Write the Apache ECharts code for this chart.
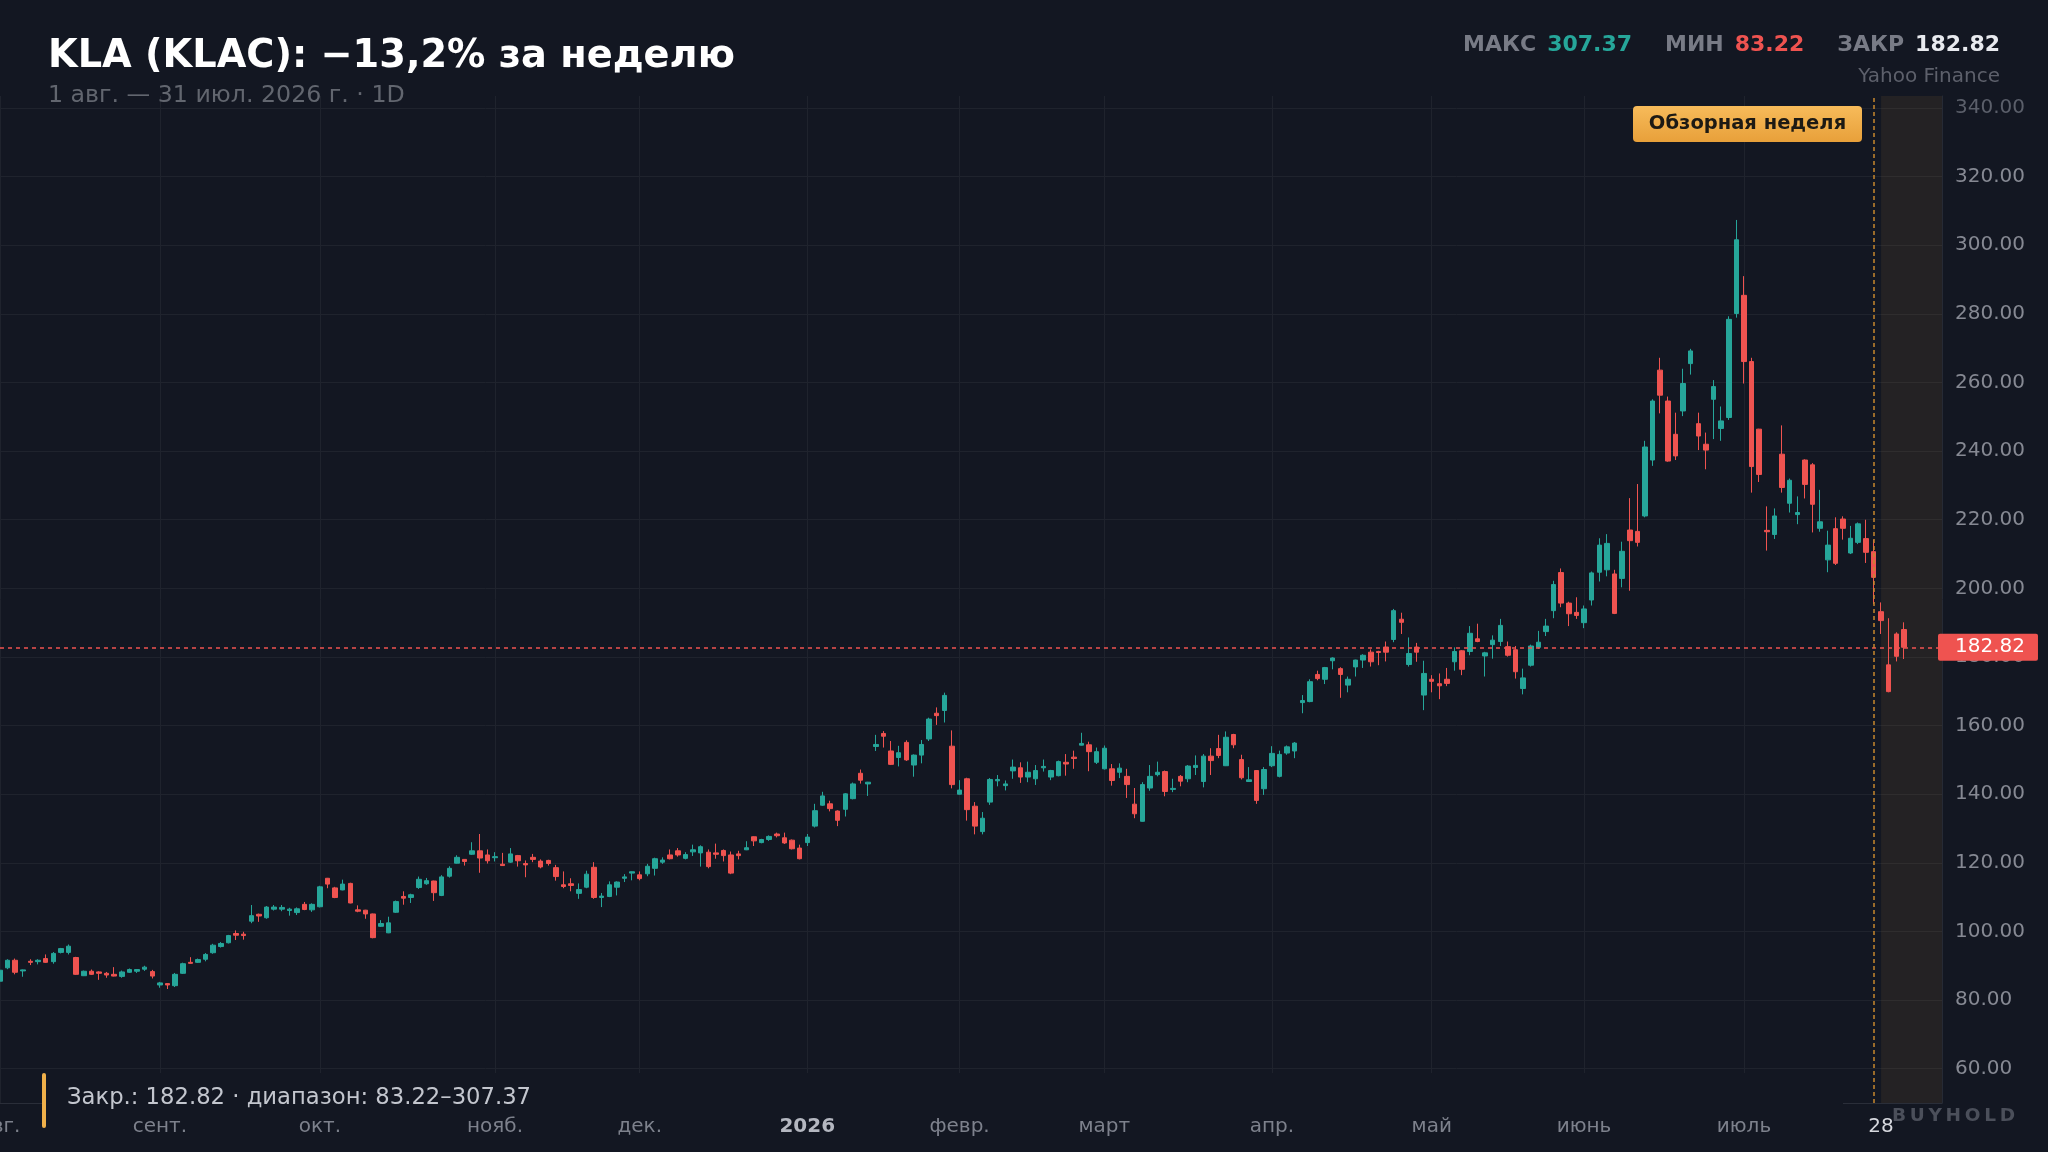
<!DOCTYPE html>
<html><head><meta charset="utf-8">
<script src="https://cdn.jsdelivr.net/npm/echarts@6/dist/echarts.min.js"></script>
<style>html,body{margin:0;padding:0;background:#131722;}#c{width:2048px;height:1152px;}</style>
</head><body><div id="c"></div>
<script>
// ---- categories (trading days) ----
const startDate = '2025-08-01';
const endDate = '2026-08-07'; // axis padding after the last candle
const holidays = ['2025-09-01','2025-11-27','2025-12-25','2026-01-01','2026-01-19','2026-02-16','2026-04-03','2026-05-25','2026-06-19','2026-07-03'];
const monthNames = ['янв.','февр.','март','апр.','май','июнь','июль','авг.','сент.','окт.','нояб.','дек.'];
const reviewWeekStart = '2026-07-27';
const dayLabel = '2026-07-28';

// ---- OHLC series ----
const opens = [85.5,89.4,91.6,88.5,91.3,91.2,92.1,91.2,93.9,93.9,92.4,87.1,88.4,88.2,87.8,87.5,86.9,88.1,88.4,89.0,88.3,
84.4,84.8,84.2,87.8,91.0,91.0,91.9,93.8,95.6,96.7,99.4,99.2,103.0,105.0,104.0,106.5,106.5,106.1,105.5,107.9,106.3,
107.2,115.5,112.7,112.1,114.0,106.3,106.2,105.1,101.5,99.6,105.6,110.2,109.9,112.8,113.9,114.7,110.5,116.1,119.9,121.0,122.5,123.5,122.3,
121.5,119.6,120.2,122.1,119.8,121.6,120.5,120.7,118.6,113.6,113.9,111.1,112.9,118.7,109.9,110.2,112.9,115.5,117.0,
116.5,116.8,118.4,120.2,122.3,123.5,121.3,123.2,122.9,123.1,122.9,123.6,122.3,122.6,123.8,127.6,125.9,126.8,128.4,127.3,126.6,124.3,
125.9,130.7,136.8,137.2,135.1,135.6,138.7,146.1,143.0,153.9,157.7,152.6,150.7,155.1,148.5,151.4,156.1,163.6,164.4,154.0,
140.0,144.5,136.5,129.1,137.7,143.9,142.5,146.8,147.7,145.0,144.5,147.7,145.0,145.4,149.3,150.8,154.3,154.4,149.3,
147.4,147.4,146.4,145.2,137.1,132.1,141.8,145.7,146.6,141.4,145.2,144.5,147.8,143.7,151.1,153.3,148.3,157.4,150.1,143.7,146.9,141.6,
148.3,145.2,152.0,152.6,166.7,167.0,174.9,173.5,178.9,176.6,171.8,177.1,179.1,181.4,181.6,182.9,185.1,191.0,177.8,182.9,168.9,
173.5,172.2,173.5,178.6,181.8,181.6,185.3,180.3,183.6,184.5,183.0,182.1,170.8,177.6,182.8,187.4,193.5,204.6,195.7,193.0,
190.0,196.6,204.7,205.4,204.2,202.9,217.0,216.6,221.1,237.4,263.6,254.6,244.9,251.7,265.5,248.0,242.0,255.1,246.6,249.8,280.1,
285.4,266.1,246.4,216.9,215.7,239.1,224.8,221.5,237.4,236.0,217.5,208.3,217.4,220.2,210.3,213.4,214.5,210.7,193.2,177.7,186.7,188.0];
const highs = [89.4,91.9,92.1,88.9,91.9,91.9,93.3,94.0,95.2,96.2,92.6,88.6,88.9,88.4,88.2,89.6,88.6,89.2,89.0,90.0,88.8,
85.3,84.9,87.9,90.9,92.5,92.1,93.7,96.4,96.9,99.0,100.3,99.9,107.7,105.2,107.4,107.7,107.7,106.9,107.0,108.6,108.2,
113.3,115.6,113.0,115.1,114.2,107.6,106.3,105.2,103.3,104.3,109.0,111.7,111.0,116.0,115.6,114.8,116.4,119.0,122.2,121.1,126.0,128.4,123.9,
123.1,122.9,124.3,122.3,120.7,122.6,121.0,120.9,119.4,117.5,115.5,114.0,117.7,120.2,111.2,114.6,114.6,116.7,117.5,
117.5,119.7,121.5,121.6,123.9,124.3,123.1,125.3,125.1,123.9,125.6,123.9,123.3,123.5,126.3,127.7,127.0,128.0,128.8,128.8,126.8,125.3,
128.4,137.2,140.7,138.1,135.3,140.3,143.4,147.2,143.6,157.3,158.4,155.5,154.1,155.7,151.6,155.8,162.3,165.3,169.6,158.6,
144.1,144.8,137.7,134.8,144.7,145.6,144.0,150.1,149.3,149.5,148.5,150.1,147.1,149.8,151.7,152.7,157.9,155.3,153.6,
154.2,148.8,149.0,147.4,141.8,143.5,148.5,149.5,146.9,144.5,145.6,148.5,151.3,151.7,153.4,157.3,158.3,157.6,151.5,147.9,147.0,147.9,
154.0,152.7,154.2,155.2,168.9,173.5,176.0,177.1,179.9,177.0,174.3,179.2,180.8,182.2,181.8,184.5,194.0,192.9,185.7,184.1,178.9,
174.7,175.2,176.8,182.8,182.0,189.0,189.7,181.5,186.3,191.1,184.5,183.2,176.6,183.6,187.6,191.1,202.2,205.8,196.1,197.4,
195.0,204.9,214.6,215.8,205.4,213.6,226.3,230.4,243.0,255.1,267.2,255.9,251.2,264.0,269.8,251.2,245.4,260.7,253.0,279.3,307.37,
291.0,267.2,246.5,223.9,223.3,247.5,232.0,226.8,237.6,236.5,228.7,216.8,220.7,221.0,218.2,219.2,220.0,214.2,195.9,191.3,187.2,190.1];
const lows = [85.3,89.0,87.5,86.8,90.2,90.4,90.8,90.6,93.6,93.3,87.3,87.0,87.3,85.9,86.5,86.9,86.5,87.9,87.9,88.5,86.3,
83.6,83.22,83.8,87.6,90.6,90.8,91.3,93.5,95.3,96.5,97.5,97.6,102.4,102.8,103.7,106.1,105.9,104.6,104.8,106.2,105.7,
107.0,112.6,109.7,112.0,108.2,105.6,103.7,98.0,101.3,99.5,105.4,107.8,108.3,112.4,113.6,108.9,110.3,115.7,119.8,119.2,122.3,117.1,119.8,
120.4,119.1,120.0,118.9,115.8,120.2,118.4,119.2,114.8,112.6,111.7,109.5,112.6,109.5,107.1,110.0,110.5,114.4,114.9,
114.9,116.1,116.3,119.7,121.0,121.8,121.0,122.0,118.9,118.4,121.2,120.4,116.7,121.0,123.7,124.9,125.7,126.4,127.4,125.5,123.9,121.0,
124.9,130.3,136.6,135.0,130.7,133.5,138.5,143.1,139.5,152.6,153.6,148.5,148.1,149.7,145.1,149.0,155.5,160.2,160.9,141.7,
139.9,132.3,128.3,128.3,136.9,142.3,141.1,144.5,143.3,143.5,142.7,146.6,144.1,145.2,145.4,147.4,154.2,146.7,148.8,
147.2,142.5,144.7,138.9,133.0,132.0,141.0,145.2,139.4,140.6,142.3,143.5,145.6,142.0,145.6,150.5,148.2,153.4,144.3,143.6,137.2,139.8,
147.9,144.9,151.5,150.5,163.6,166.8,173.2,172.1,176.4,168.1,169.7,174.3,176.8,177.2,177.6,178.7,184.3,186.7,177.2,178.6,164.5,
169.7,167.7,171.5,176.0,174.7,180.5,184.3,174.3,179.5,183.2,180.1,173.7,169.1,177.2,182.4,186.1,191.3,194.5,189.0,191.1,
188.4,195.0,202.0,203.5,192.5,200.3,199.3,212.2,220.7,235.7,251.0,236.9,237.4,250.2,262.3,240.3,234.7,243.5,243.0,249.1,278.9,
259.7,227.9,231.0,211.0,214.4,227.9,222.1,218.7,226.2,216.3,216.5,204.7,206.8,214.2,210.0,212.9,207.4,195.4,186.7,169.7,178.7,179.4];
const closes = [88.7,91.6,88.1,88.8,91.0,91.6,91.0,93.6,95.0,95.7,87.5,88.4,87.5,87.8,87.3,87.0,88.2,88.9,88.9,89.6,87.0,
85.0,84.4,87.5,90.6,90.7,91.8,93.3,96.0,96.5,98.8,98.9,98.8,104.6,104.5,107.1,107.1,107.0,106.5,106.6,106.4,107.9,
113.0,113.8,109.9,113.8,108.3,105.9,105.1,98.2,102.3,102.5,108.7,109.7,110.7,115.2,114.8,111.3,115.9,118.4,121.6,120.4,123.5,121.4,120.6,
121.8,119.2,122.6,120.6,119.4,121.0,118.8,119.8,116.0,113.1,113.4,112.2,116.7,109.9,110.3,113.6,114.4,115.9,117.4,
115.4,119.0,121.2,120.8,121.2,122.3,122.4,123.8,124.7,118.9,122.5,122.1,117.0,122.1,124.4,126.4,126.8,127.7,127.9,125.8,124.1,121.2,
127.5,135.2,139.5,135.8,132.4,140.1,143.0,144.1,143.5,154.5,156.9,148.7,152.1,150.0,151.4,154.5,161.9,162.9,168.8,142.8,
141.2,135.5,130.7,133.0,144.3,144.3,143.0,147.9,145.0,146.4,146.9,148.1,146.9,149.5,148.8,150.4,154.8,152.4,152.4,
153.4,144.0,147.6,142.8,134.3,142.8,145.2,146.4,140.8,141.7,143.8,148.2,148.4,151.1,149.8,151.3,156.6,154.4,144.8,144.2,138.2,147.2,
151.9,151.6,153.8,154.9,167.3,172.8,173.7,176.9,179.7,174.9,173.5,179.1,180.5,178.6,181.3,181.4,193.5,190.1,181.0,181.4,175.2,
172.9,171.6,172.3,181.6,176.4,186.9,184.5,181.2,184.9,189.2,180.5,175.7,173.9,183.2,184.3,189.0,201.1,195.7,192.6,192.1,
194.0,204.5,212.6,213.1,192.7,210.8,213.9,213.4,241.2,254.6,256.3,237.1,238.6,259.7,269.2,244.4,240.3,258.8,248.8,278.4,301.6,
266.1,235.5,233.2,216.5,221.1,229.4,231.5,222.1,230.3,224.5,219.4,212.6,207.3,217.5,214.6,218.8,210.5,203.2,190.6,169.9,180.2,182.82];

// ---- y-axis ticks ----
const yMin = 50, yMax = 343.5, yStep = 10, yLabelStep = 20;

// ---- build categories ----
function tradingDays(s, e) {
  const out = [];
  let d = new Date(s + 'T00:00:00Z');
  const end = new Date(e + 'T00:00:00Z');
  while (d <= end) {
    const w = d.getUTCDay();
    const iso = d.toISOString().slice(0, 10);
    if (w !== 0 && w !== 6 && holidays.indexOf(iso) < 0) out.push(iso);
    d = new Date(d.getTime() + 86400000);
  }
  return out;
}
const dates = tradingDays(startDate, endDate);
const nData = opens.length;
const candles = opens.map((o, i) => [o, closes[i], lows[i], highs[i]]);
const lastClose = closes[nData - 1];
const maxHigh = Math.max.apply(null, highs);
const minLow = Math.min.apply(null, lows);
const reviewIdx = dates.indexOf(reviewWeekStart);
const dayIdx = dates.indexOf(dayLabel);
const isMonthStart = i => i < nData && (i === 0 || dates[i].slice(5, 7) !== dates[i - 1].slice(5, 7));

const FONT = 'DejaVu Sans';
const BG = '#131722';
const GRID = '#1f232d';

const chart = echarts.init(document.getElementById('c'), null, {renderer: 'canvas'});
chart.setOption({
  backgroundColor: BG,
  animation: false,
  grid: {left: 0, right: 106, top: 96, bottom: 49, containLabel: false, outerBoundsMode: 'none'},
  xAxis: {
    type: 'category', data: dates, boundaryGap: false,
    axisTick: {show: false},
    axisLine: {show: true, lineStyle: {color: '#2a2e39', width: 1}},
    splitLine: {show: true, interval: (i) => isMonthStart(i), lineStyle: {color: GRID, width: 1}},
    axisLabel: {
      interval: (i) => isMonthStart(i) || i === dayIdx,
      margin: 14,
      formatter: (v, i) => {
        const m = +v.slice(5, 7);
        if (v === dayLabel) return '{d|' + (+v.slice(8, 10)) + '}';
        if (m === 1) return '{y|' + v.slice(0, 4) + '}';
        return '{m|' + monthNames[m - 1] + '}';
      },
      rich: {
        m: {color: '#7d818c', fontSize: 20, fontFamily: FONT},
        y: {color: '#b4b7c0', fontSize: 20, fontWeight: 'bold', fontFamily: FONT},
        d: {color: '#d6d8de', fontSize: 20, fontFamily: FONT}
      }
    }
  },
  yAxis: {
    type: 'value', position: 'right', min: yMin, max: yMax, interval: yStep, scale: true,
    axisLine: {show: true, lineStyle: {color: '#262a35'}},
    axisTick: {show: false},
    splitLine: {show: true, lineStyle: {color: ['rgba(0,0,0,0)', GRID], width: 1}},
    axisLabel: {
      margin: 13, color: '#868993', fontSize: 20, fontFamily: FONT,
      formatter: (v) => {
        const r = Math.round(v);
        if (Math.abs(v - r) > 1e-6 || r % yLabelStep !== 0) return '';
        return r >= 340 ? '{dim|' + v.toFixed(2) + '}' : v.toFixed(2);
      },
      rich: {dim: {color: '#5b5f6a', fontSize: 20, fontFamily: FONT}}
    }
  },
  series: [{
    type: 'candlestick',
    data: candles,
    barWidth: 5,
    clip: true,
    itemStyle: {color: '#26a69a', color0: '#ef5350', borderColor: '#26a69a', borderColor0: '#ef5350', borderWidth: 1},
    markArea: {
      silent: true,
      itemStyle: {color: 'rgba(240,170,60,0.08)'},
      data: [[{xAxis: dates[reviewIdx + 1]}, {xAxis: dates[dates.length - 1]}]]
    },
    markLine: {
      silent: true, symbol: ['none', 'none'], animation: false,
      data: [
        {yAxis: lastClose,
         lineStyle: {color: '#ef5350', type: [4, 4], width: 1.5},
         label: {show: true, position: 'end', distance: -4, formatter: (p) => p.value.toFixed(2),
                 color: '#ffffff', fontSize: 20, fontFamily: FONT, backgroundColor: '#ef5350',
                 padding: [4, 13, 3, 17], borderRadius: 2}},
        {xAxis: reviewWeekStart,
         lineStyle: {color: '#c8882e', type: [4, 3], width: 1.5},
         label: {show: false}}
      ]
    }
  }],
  graphic: [
    {type: 'text', x: 48, y: 57, z: 10, style: {text: 'KLA (KLAC): −13,2% за неделю', font: 'bold 38.3px "DejaVu Sans"', fill: '#ffffff', textAlign: 'left', align: 'left', textVerticalAlign: 'middle', verticalAlign: 'middle'}},
    {type: 'text', x: 48, y: 96, z: 10, style: {text: '1 авг. — 31 июл. 2026 г. · 1D', font: '23.7px "DejaVu Sans"', fill: '#62666f', textAlign: 'left', align: 'left', textVerticalAlign: 'middle', verticalAlign: 'middle'}},
    {type: 'text', x: 2000, y: 45, z: 10, style: {
      text: '{l|МАКС}{t| }{g|' + maxHigh.toFixed(2) + '}{s| }{l|МИН}{t| }{r|' + minLow.toFixed(2) + '}{s| }{l|ЗАКР}{t| }{w|' + lastClose.toFixed(2) + '}',
      font: 'bold 22px "DejaVu Sans"', fill: '#787b86', textAlign: 'right', align: 'right', textVerticalAlign: 'middle', verticalAlign: 'middle',
      rich: {
        l: {fill: '#787b86', font: 'bold 22px "DejaVu Sans"'},
        g: {fill: '#26a69a', font: 'bold 22px "DejaVu Sans"'},
        r: {fill: '#ef5350', font: 'bold 22px "DejaVu Sans"'},
        w: {fill: '#e8eaef', font: 'bold 22px "DejaVu Sans"'},
        t: {width: 11, font: 'bold 22px "DejaVu Sans"'},
        s: {width: 33, font: 'bold 22px "DejaVu Sans"'}
      }}},
    {type: 'text', x: 2000, y: 77, z: 10, style: {text: 'Yahoo Finance', font: '20px "DejaVu Sans"', fill: '#5d606b', textAlign: 'right', align: 'right', textVerticalAlign: 'middle', verticalAlign: 'middle'}},
    {type: 'rect', x: 1633, y: 106, z: 10, shape: {width: 229, height: 36, r: 4},
     style: {fill: new echarts.graphic.LinearGradient(0, 0, 0, 1, [{offset: 0, color: '#f7bb5a'}, {offset: 1, color: '#e8a03a'}])}},
    {type: 'text', x: 1747.5, y: 124, z: 11, style: {text: 'Обзорная неделя', font: 'bold 19.5px "DejaVu Sans"', fill: '#1d1a14', textAlign: 'center', align: 'center', textVerticalAlign: 'middle', verticalAlign: 'middle'}},
    {type: 'rect', x: 46, y: 1073, z: 10, shape: {width: 1797, height: 39}, style: {fill: BG}},
    {type: 'rect', x: 42, y: 1073, z: 11, shape: {width: 4, height: 55, r: 2}, style: {fill: '#f0b04a'}},
    {type: 'text', x: 67, y: 1098, z: 11, style: {text: 'Закр.: ' + lastClose.toFixed(2) + ' · диапазон: ' + minLow.toFixed(2) + '–' + maxHigh.toFixed(2), font: '22.7px "DejaVu Sans"', fill: '#c3c6ce', textAlign: 'left', align: 'left', textVerticalAlign: 'middle', verticalAlign: 'middle'}},
    {type: 'text', x: 2015, y: 1116, z: 11, style: {text: 'B\u2009U\u2009Y\u2009H\u2009O\u2009L\u2009D', font: 'bold 18.5px "DejaVu Sans"', fill: '#4b4f5a', textAlign: 'right', align: 'right', textVerticalAlign: 'middle', verticalAlign: 'middle'}}
  ]
});
</script>
</body></html>
